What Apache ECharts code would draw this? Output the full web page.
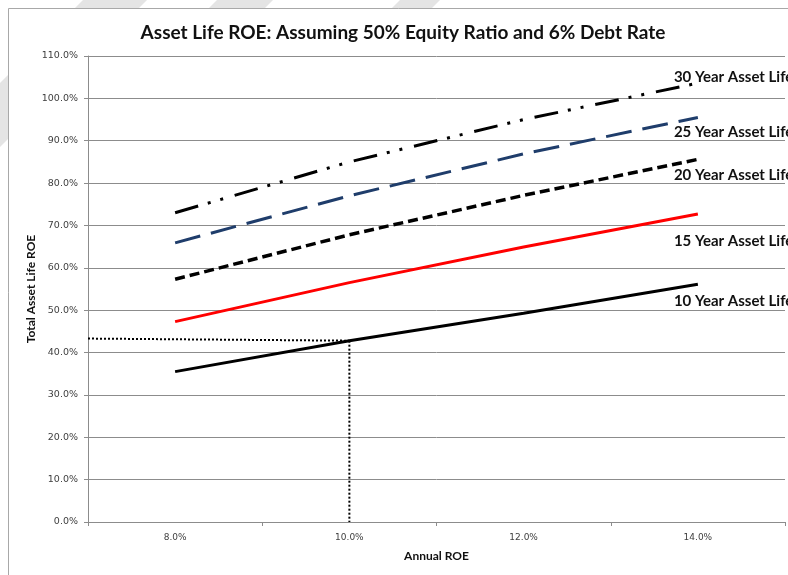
<!DOCTYPE html>
<html>
<head>
<meta charset="utf-8">
<script src="https://cdn.jsdelivr.net/npm/echarts@6/dist/echarts.min.js"></script>
<style>
  html, body { margin: 0; padding: 0; background: #ffffff; }
  #chart { width: 788px; height: 575px; }
</style>
</head>
<body>
<div id="chart"></div>
<script>
// Annual ROE categories (x axis)
const categories = ['8.0%', '10.0%', '12.0%', '14.0%'];

// Total asset life ROE (%) for each asset life
const life10 = [35.5, 42.8, 49.3, 56.1];
const life15 = [47.3, 56.5, 64.9, 72.7];
const life20 = [57.3, 67.8, 77.1, 85.6];
const life25 = [65.9, 77.0, 86.9, 95.5];
const life30 = [73.0, 85.0, 95.0, 103.6];

// Series names shown as end labels
const seriesNames = ['10 Year Asset Life', '15 Year Asset Life', '20 Year Asset Life',
                     '25 Year Asset Life', '30 Year Asset Life'];

// Reading guide at a 10% annual ROE: [annual ROE %, total ROE %]
const guideHorizontal = [[7, 43.3], [10, 42.8]];
const guideVertical = [[10, 42.8], [10, 0]];

// Y axis range (%)
const yMin = 0, yMax = 110, yStep = 10;

const chart = echarts.init(document.getElementById('chart'), null, { renderer: 'canvas' });

const labelFont = { fontFamily: 'Lato', fontWeight: 'bold', fontSize: 15, color: '#111' };

function lifeSeries(name, data, lineStyle, dy) {
  return {
    name: name,
    type: 'line',
    xAxisIndex: 0,
    data: data,
    symbol: 'none',
    lineStyle: Object.assign({ width: 3, cap: 'butt' }, lineStyle),
    endLabel: Object.assign({
      show: true,
      formatter: name,
      distance: 0,
      offset: [-24, dy],
      align: 'left',
      verticalAlign: 'middle'
    }, labelFont),
    emphasis: { disabled: true },
    z: 3
  };
}

const option = {
  animation: false,
  backgroundColor: '#ffffff',
  graphic: [
    // light diagonal background stripes
    { type: 'polygon', z: -10, shape: { points: [[83, 0], [147, 0], [0, 147], [0, 83]] }, style: { fill: '#e4e4e4' } },
    { type: 'polygon', z: -10, shape: { points: [[217, 0], [273, 0], [253, 20], [197, 20]] }, style: { fill: '#e4e4e4' } },
    { type: 'polygon', z: -10, shape: { points: [[400, 0], [440, 0], [420, 20], [380, 20]] }, style: { fill: '#e4e4e4' } },
    // chart frame
    { type: 'rect', z: -5, shape: { x: 8.5, y: 8.5, width: 820, height: 620 },
      style: { fill: '#ffffff', stroke: '#a8a8a8', lineWidth: 1 } }
  ],
  title: {
    text: 'Asset Life ROE: Assuming 50% Equity Ratio and 6% Debt Rate',
    left: 398,
    textAlign: 'center',
    top: 18,
    textStyle: { fontFamily: 'Lato', fontWeight: 'bold', fontSize: 19, color: '#111' }
  },
  grid: { left: 88, right: 3, top: 56, bottom: 53, containLabel: false },
  xAxis: [
    {
      type: 'category',
      data: categories,
      boundaryGap: true,
      name: 'Annual ROE',
      nameLocation: 'middle',
      nameGap: 28,
      nameTextStyle: { fontFamily: 'Lato', fontWeight: 'bold', fontSize: 12, color: '#111' },
      axisLine: { lineStyle: { color: '#8c8c8c', width: 1 } },
      axisTick: { show: true, length: 4, lineStyle: { color: '#8c8c8c' } },
      axisLabel: { margin: 11, fontFamily: 'DejaVu Sans', fontSize: 9, color: '#404040' },
      splitLine: { show: false }
    },
    {
      type: 'value',
      min: 7,
      max: 15,
      show: false,
      splitLine: { show: false }
    }
  ],
  yAxis: {
    type: 'value',
    min: yMin,
    max: yMax,
    interval: yStep,
    name: 'Total Asset Life ROE',
    nameLocation: 'middle',
    nameGap: 51,
    nameMoveOverlap: false,
    nameTextStyle: { fontFamily: 'Lato', fontWeight: 'bold', fontSize: 12, color: '#111' },
    axisLine: { show: true, lineStyle: { color: '#8c8c8c', width: 1 } },
    axisTick: { show: true, length: 4, lineStyle: { color: '#8c8c8c' } },
    axisLabel: {
      margin: 10,
      fontFamily: 'DejaVu Sans',
      fontSize: 9.5,
      color: '#404040',
      formatter: v => v.toFixed(1) + '%'
    },
    splitLine: { show: true, lineStyle: { color: '#8c8c8c', width: 1 } }
  },
  series: [
    lifeSeries(seriesNames[0], life10, { color: '#000000' }, 17),
    lifeSeries(seriesNames[1], life15, { color: '#ff0000' }, 27),
    lifeSeries(seriesNames[2], life20, { color: '#000000', type: [10, 5], width: 3.5 }, 16),
    lifeSeries(seriesNames[3], life25, { color: '#1f3d6b', type: [26, 11] }, 15),
    lifeSeries(seriesNames[4], life30, { color: '#000000', type: [24, 10, 3, 10, 3, 12] }, -6),
    {
      name: 'guide-h',
      type: 'line',
      xAxisIndex: 1,
      data: guideHorizontal,
      symbol: 'none',
      lineStyle: { color: '#000000', width: 2, type: [2, 2] },
      emphasis: { disabled: true },
      z: 2
    },
    {
      name: 'guide-v',
      type: 'line',
      xAxisIndex: 1,
      data: guideVertical,
      symbol: 'none',
      lineStyle: { color: '#000000', width: 2, type: [2, 2] },
      emphasis: { disabled: true },
      z: 2
    }
  ]
};

chart.setOption(option);
</script>
</body>
</html>
